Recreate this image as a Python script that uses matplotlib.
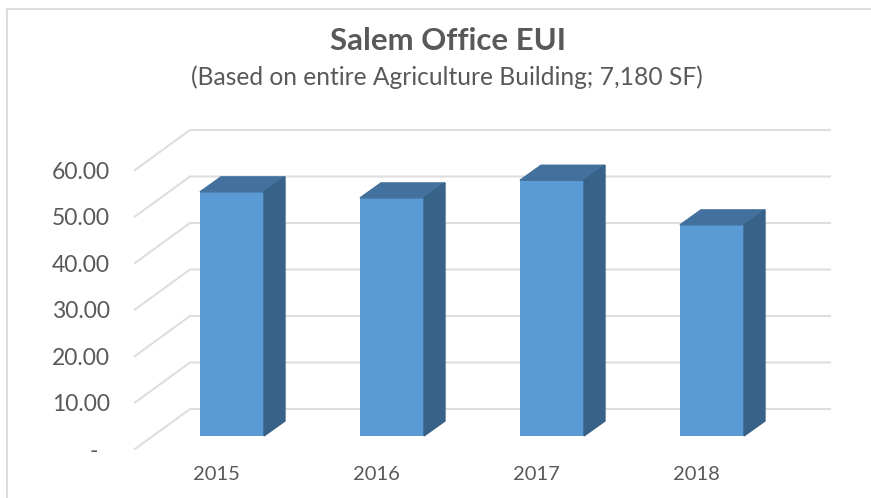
import matplotlib
matplotlib.use("Agg")
import matplotlib.pyplot as plt
from matplotlib.patches import Polygon

YEARS = ["2015", "2016", "2017", "2018"]
EUI = [52.5, 51.2, 55.0, 45.4]
Y_TICKS = [0, 10, 20, 30, 40, 50, 60]
Y_LABELS = ["-  ", "10.00", "20.00", "30.00", "40.00", "50.00", "60.00"]

W, H = 871, 498
PX_X = 160.0  # pixels per category
PX_Y = 4.65  # pixels per EUI unit

# 3d offsets, in pixels, turned into data units below
def dx(px):
    return px / PX_X

def dy(px):
    return px / PX_Y

plt.rcParams['font.family'] = ['Lato', 'DejaVu Sans']
fig = plt.figure(figsize=(W / 100, H / 100), dpi=100)

# index 0 centres on x=232, value 0 sits at y=436
ax = fig.add_axes([152 / W, 1 - 436 / H, 640 / W, 60 * PX_Y / H])
ax.set_xlim(-0.5, 3.5)
ax.set_ylim(0, 60)
ax.axis("off")

grid_c = "#dedede"
text_c = "#595959"
x_back0 = -0.5 + dx(38)
x_back1 = 3.5 + dx(38)
x_front = -0.5 - dx(17)

for v in Y_TICKS:
    y_back = v + dy(27)
    y_front = v - dy(13)
    ax.plot([x_front, x_back0, x_back1], [y_front, y_back, y_back], color=grid_c,
            lw=1.5, clip_on=False, zorder=1, solid_joinstyle="miter")

bar_w = 64 / PX_X
depth_x = dx(21)
depth_y = dy(15)
for i, v in enumerate(EUI):
    l = i - bar_w / 2
    r = i + bar_w / 2
    ax.bar(i, v, width=bar_w, color="#5b9bd5", zorder=3, clip_on=False)
    top = [(l, v), (r, v), (r + depth_x, v + depth_y), (l + depth_x, v + depth_y)]
    side = [(r, 0), (r + depth_x, depth_y), (r + depth_x, v + depth_y), (r, v)]
    ax.add_patch(Polygon(top, closed=True, color="#41719c", zorder=3, clip_on=False))
    ax.add_patch(Polygon(side, closed=True, color="#386389", zorder=3, clip_on=False))
    ax.text(i - dx(16), -dy(38), YEARS[i], ha="center", va="center", color=text_c, fontsize=14.5)

for v, lab in zip(Y_TICKS, Y_LABELS):
    ax.text(-0.5 - dx(42), v - dy(15), lab, ha="right", va="center", color=text_c, fontsize=16.5)

fig.text(447.5 / W, 1 - 41 / H, "Salem Office EUI", ha="center", va="center", color=text_c,
         fontsize=22.4, fontweight="bold")
fig.text(447 / W, 1 - 77 / H, "(Based on entire Agriculture Building; 7,180 SF)", ha="center",
         va="center", color=text_c, fontsize=17.7)

# chart frame
fig.add_artist(plt.Line2D([7 / W, 7 / W, 1], [0, 1 - 9 / H, 1 - 9 / H], color=grid_c, lw=1.5))

fig.savefig("out.png", dpi=100)
